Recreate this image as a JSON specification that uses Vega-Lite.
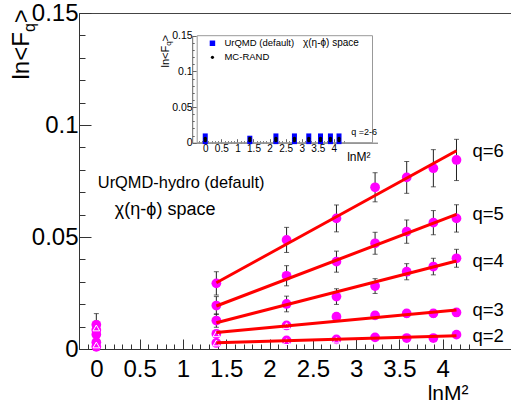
{
  "$schema": "https://vega.github.io/schema/vega-lite/v6.json",
  "width": 433,
  "height": 336,
  "autosize": "none",
  "padding": {"left": 79, "top": 13, "right": 0, "bottom": 59},
  "config": {
    "view": {"stroke": "#444", "strokeWidth": 1},
    "font": "Liberation Sans",
    "text": {"font": "Liberation Sans"},
    "axis": {"labelFont": "Liberation Sans", "titleFont": "Liberation Sans", "titleFontWeight": "normal", "labelColor": "#000", "titleColor": "#000", "domainColor": "#333", "tickColor": "#333", "grid": false, "labelFlush": false, "labelOverlap": false}
  },
  "datasets": {
    "pts": [
      {"q": "q=2", "x": 0, "y": 0.001, "err": 0.0005},
      {"q": "q=3", "x": 0, "y": 0.003, "err": 0.001},
      {"q": "q=4", "x": 0, "y": 0.0065, "err": 0.003},
      {"q": "q=5", "x": 0, "y": 0.0085, "err": 0.004},
      {"q": "q=6", "x": 0, "y": 0.0108, "err": 0.005},
      {"q": "q=2", "x": 1.386, "y": 0.0027, "err": 0.0006},
      {"q": "q=2", "x": 2.197, "y": 0.0038, "err": 0.0007},
      {"q": "q=2", "x": 2.773, "y": 0.0043, "err": 0.0007},
      {"q": "q=2", "x": 3.219, "y": 0.0052, "err": 0.0008},
      {"q": "q=2", "x": 3.584, "y": 0.0049, "err": 0.0008},
      {"q": "q=2", "x": 3.892, "y": 0.0049, "err": 0.0008},
      {"q": "q=2", "x": 4.159, "y": 0.0064, "err": 0.0009},
      {"q": "q=3", "x": 1.386, "y": 0.0068, "err": 0.0015},
      {"q": "q=3", "x": 2.197, "y": 0.0105, "err": 0.0015},
      {"q": "q=3", "x": 2.773, "y": 0.0144, "err": 0.0015},
      {"q": "q=3", "x": 3.219, "y": 0.015, "err": 0.0015},
      {"q": "q=3", "x": 3.584, "y": 0.0159, "err": 0.0016},
      {"q": "q=3", "x": 3.892, "y": 0.0159, "err": 0.0016},
      {"q": "q=3", "x": 4.159, "y": 0.0163, "err": 0.0017},
      {"q": "q=4", "x": 1.386, "y": 0.0127, "err": 0.003},
      {"q": "q=4", "x": 2.197, "y": 0.0201, "err": 0.0035},
      {"q": "q=4", "x": 2.773, "y": 0.0234, "err": 0.0035},
      {"q": "q=4", "x": 3.219, "y": 0.0281, "err": 0.0033},
      {"q": "q=4", "x": 3.584, "y": 0.0345, "err": 0.0036},
      {"q": "q=4", "x": 3.892, "y": 0.0368, "err": 0.0037},
      {"q": "q=4", "x": 4.159, "y": 0.0405, "err": 0.004},
      {"q": "q=5", "x": 1.386, "y": 0.0194, "err": 0.004},
      {"q": "q=5", "x": 2.197, "y": 0.0327, "err": 0.0045},
      {"q": "q=5", "x": 2.773, "y": 0.039, "err": 0.0047},
      {"q": "q=5", "x": 3.219, "y": 0.0472, "err": 0.0049},
      {"q": "q=5", "x": 3.584, "y": 0.0524, "err": 0.0052},
      {"q": "q=5", "x": 3.892, "y": 0.0564, "err": 0.0054},
      {"q": "q=5", "x": 4.159, "y": 0.0583, "err": 0.0061},
      {"q": "q=6", "x": 1.386, "y": 0.0293, "err": 0.0052},
      {"q": "q=6", "x": 2.197, "y": 0.0487, "err": 0.0056},
      {"q": "q=6", "x": 2.773, "y": 0.0583, "err": 0.006},
      {"q": "q=6", "x": 3.219, "y": 0.0722, "err": 0.0065},
      {"q": "q=6", "x": 3.584, "y": 0.0766, "err": 0.0071},
      {"q": "q=6", "x": 3.892, "y": 0.0807, "err": 0.0083},
      {"q": "q=6", "x": 4.159, "y": 0.0844, "err": 0.0092}
    ],
    "mc": [
      {"x": 0, "y": 0.0018},
      {"x": 0, "y": 0.0094},
      {"x": 1.386, "y": 0.0027},
      {"x": 1.386, "y": 0.0068},
      {"x": 2.197, "y": 0.0033},
      {"x": 2.197, "y": 0.0104},
      {"x": 2.773, "y": 0.004}
    ],
    "fit": [
      {"q": "q=2", "x": 1.386, "y": 0.0028},
      {"q": "q=2", "x": 4.159, "y": 0.0059},
      {"q": "q=3", "x": 1.386, "y": 0.0074},
      {"q": "q=3", "x": 4.159, "y": 0.0174},
      {"q": "q=4", "x": 1.386, "y": 0.0117},
      {"q": "q=4", "x": 4.159, "y": 0.0393},
      {"q": "q=5", "x": 1.386, "y": 0.0192},
      {"q": "q=5", "x": 4.159, "y": 0.0601},
      {"q": "q=6", "x": 1.386, "y": 0.0296},
      {"q": "q=6", "x": 4.159, "y": 0.0885}
    ],
    "inset": [
      {"x": 0, "top": 0.013},
      {"x": 1.386, "top": 0.0098},
      {"x": 2.197, "top": 0.013},
      {"x": 2.773, "top": 0.013},
      {"x": 3.219, "top": 0.013},
      {"x": 3.584, "top": 0.013},
      {"x": 3.892, "top": 0.013},
      {"x": 4.159, "top": 0.013}
    ],
    "insetmc": [
      {"x": 0, "y": 0.003}, {"x": 0, "y": 0.006},
      {"x": 1.386, "y": 0.003}, {"x": 1.386, "y": 0.006},
      {"x": 2.197, "y": 0.003}, {"x": 2.197, "y": 0.006},
      {"x": 2.773, "y": 0.003}, {"x": 2.773, "y": 0.006},
      {"x": 3.219, "y": 0.003}, {"x": 3.219, "y": 0.006},
      {"x": 3.584, "y": 0.003}, {"x": 3.584, "y": 0.006},
      {"x": 3.892, "y": 0.003}, {"x": 3.892, "y": 0.006},
      {"x": 4.159, "y": 0.003}, {"x": 4.159, "y": 0.006}
    ]
  },
  "layer": [
    {
      "layer": [
        {
          "data": {"name": "pts"},
          "mark": {"type": "errorbar", "color": "#222", "thickness": 1, "ticks": {"size": 5, "thickness": 1}},
          "encoding": {
            "x": {"field": "x", "type": "quantitative", "scale": {"domain": [-0.2, 4.8], "nice": false, "zero": false}, "axis": null},
            "y": {"field": "y", "type": "quantitative", "scale": {"domain": [0, 0.15], "nice": false, "zero": false}, "axis": null},
            "yError": {"field": "err"}
          }
        },
        {
          "data": {"name": "pts"},
          "mark": {"type": "circle", "color": "#ff00ff", "opacity": 1, "size": 95},
          "encoding": {
            "x": {"field": "x", "type": "quantitative", "scale": {"domain": [-0.2, 4.8], "nice": false, "zero": false},
              "axis": {"orient": "bottom",
                "values": [-0.1,0,0.1,0.2,0.3,0.4,0.5,0.6,0.7,0.8,0.9,1,1.1,1.2,1.3,1.4,1.5,1.6,1.7,1.8,1.9,2,2.1,2.2,2.3,2.4,2.5,2.6,2.7,2.8,2.9,3,3.1,3.2,3.3,3.4,3.5,3.6,3.7,3.8,3.9,4,4.1,4.2,4.3],
                "format": "~g",
                "labelExpr": "(abs(datum.value*2 - round(datum.value*2)) < 0.000001 && datum.value > -0.01 && datum.value < 4.01) ? datum.label : ''",
                "tickSize": {"condition": {"test": "abs(datum.value*2 - round(datum.value*2)) < 0.000001", "value": -10}, "value": -5},
                "labelFontSize": 24, "labelPadding": 18,
                "title": "lnM²", "titleFontSize": 21, "titleX": 389, "titleY": 50, "titleAlign": "right", "titleBaseline": "alphabetic", "titleAngle": 0}},
            "y": {"field": "y", "type": "quantitative", "scale": {"domain": [0, 0.15], "nice": false, "zero": false},
              "axis": {"orient": "left",
                "values": [0,0.01,0.02,0.03,0.04,0.05,0.06,0.07,0.08,0.09,0.1,0.11,0.12,0.13,0.14,0.15],
                "format": "~g",
                "labelExpr": "abs(datum.value*20 - round(datum.value*20)) < 0.000001 ? datum.label : ''",
                "tickSize": {"condition": {"test": "abs(datum.value*20 - round(datum.value*20)) < 0.000001", "value": -12}, "value": -6},
                "labelFontSize": 24, "labelPadding": 13, "labelBaseline": "middle",
                "title": "ln<F", "titleFontSize": 24, "titleAngle": -90, "titleX": -51, "titleY": 66, "titleAlign": "left", "titleBaseline": "alphabetic"}}
          }
        },
        {
          "data": {"name": "mc"},
          "mark": {"type": "point", "shape": "triangle-up", "filled": false, "stroke": "#ffffff", "strokeWidth": 1, "size": 45, "opacity": 1},
          "encoding": {
            "x": {"field": "x", "type": "quantitative", "scale": {"domain": [-0.2, 4.8], "nice": false, "zero": false}, "axis": null},
            "y": {"field": "y", "type": "quantitative", "scale": {"domain": [0, 0.15], "nice": false, "zero": false},
              "axis": {"orient": "left", "domain": false, "ticks": false, "labels": false, "title": "q", "titleFontSize": 16, "titleAngle": -90, "titleX": -45, "titleY": 18.6, "titleAlign": "left", "titleBaseline": "alphabetic"}}
          }
        },
        {
          "data": {"name": "fit"},
          "mark": {"type": "line", "color": "#ff0000", "strokeWidth": 3},
          "encoding": {
            "x": {"field": "x", "type": "quantitative", "scale": {"domain": [-0.2, 4.8], "nice": false, "zero": false}, "axis": null},
            "y": {"field": "y", "type": "quantitative", "scale": {"domain": [0, 0.15], "nice": false, "zero": false},
              "axis": {"orient": "left", "domain": false, "ticks": false, "labels": false, "title": ">", "titleFontSize": 24, "titleAngle": -90, "titleX": -51, "titleY": 9.7, "titleAlign": "left", "titleBaseline": "alphabetic"}},
            "detail": {"field": "q"}
          }
        },
        {
          "data": {"name": "fit"},
          "transform": [{"filter": "datum.x > 4"}],
          "mark": {"type": "text", "align": "left", "baseline": "middle", "dx": 16, "fontSize": 18.5, "color": "#000"},
          "encoding": {
            "x": {"field": "x", "type": "quantitative", "scale": {"domain": [-0.2, 4.8], "nice": false, "zero": false}, "axis": null},
            "y": {"field": "y", "type": "quantitative", "scale": {"domain": [0, 0.15], "nice": false, "zero": false}, "axis": null},
            "text": {"field": "q"}
          }
        },
        {
          "data": {"values": [{}]},
          "mark": {"type": "text", "text": "UrQMD-hydro (default)", "align": "left", "baseline": "middle", "fontSize": 16.4, "color": "#000"},
          "encoding": {
            "x": {"datum": 0.017, "type": "quantitative", "scale": {"domain": [-0.2, 4.8], "nice": false, "zero": false}, "axis": null},
            "y": {"datum": 0.074, "type": "quantitative", "scale": {"domain": [0, 0.15], "nice": false, "zero": false}, "axis": null}
          }
        },
        {
          "data": {"values": [{}]},
          "mark": {"type": "text", "text": "χ(η-ϕ) space", "align": "left", "baseline": "middle", "fontSize": 18, "color": "#000"},
          "encoding": {
            "x": {"datum": 0.214, "type": "quantitative", "scale": {"domain": [-0.2, 4.8], "nice": false, "zero": false}, "axis": null},
            "y": {"datum": 0.062, "type": "quantitative", "scale": {"domain": [0, 0.15], "nice": false, "zero": false}, "axis": null}
          }
        }
      ],
      "resolve": {"axis": {"x": "independent", "y": "independent"}}
    },
    {
      "layer": [
        {
          "data": {"values": [{}]},
          "mark": {"type": "rect", "fillOpacity": 0, "stroke": "#999", "strokeWidth": 1},
          "encoding": {
            "x": {"datum": -0.25, "type": "quantitative", "scale": {"domain": [-0.25, 5.2], "range": [113.2, 298.5], "nice": false, "zero": false}, "axis": null},
            "x2": {"datum": 5.2},
            "y": {"datum": 0, "type": "quantitative", "scale": {"domain": [0, 0.15], "range": [129.7, 22.7], "nice": false, "zero": false},
              "axis": {"orient": "left", "offset": -113.2, "domain": false, "ticks": false, "labels": false, "title": ">", "titleFontSize": 11, "titleAngle": -90, "titleX": -24.2, "titleY": 27.9, "titleAlign": "left", "titleBaseline": "alphabetic"}},
            "y2": {"datum": 0.15}
          }
        },
        {
          "data": {"name": "inset"},
          "mark": {"type": "bar", "color": "#0000ff", "size": 5},
          "encoding": {
            "x": {"field": "x", "type": "quantitative", "scale": {"domain": [-0.25, 5.2], "range": [113.2, 298.5], "nice": false, "zero": false},
              "axis": {"orient": "bottom", "offset": -206.3,
                "values": [-0.2,-0.1,0,0.1,0.2,0.3,0.4,0.5,0.6,0.7,0.8,0.9,1,1.1,1.2,1.3,1.4,1.5,1.6,1.7,1.8,1.9,2,2.1,2.2,2.3,2.4,2.5,2.6,2.7,2.8,2.9,3,3.1,3.2,3.3,3.4,3.5,3.6,3.7,3.8,3.9,4,4.1,4.2,4.3],
                "format": "~g",
                "labelExpr": "(abs(datum.value*2 - round(datum.value*2)) < 0.000001 && datum.value > -0.01 && datum.value < 4.01) ? datum.label : ''",
                "tickSize": {"condition": {"test": "abs(datum.value*2 - round(datum.value*2)) < 0.000001", "value": -4}, "value": -2},
                "domainColor": "#666", "tickColor": "#666",
                "labelFontSize": 10, "labelPadding": 4.5,
                "title": "lnM²", "titleFontSize": 12, "titleX": 291, "titleY": 17.3, "titleAlign": "right", "titleBaseline": "alphabetic", "titleAngle": 0}},
            "y": {"field": "top", "type": "quantitative", "scale": {"domain": [0, 0.15], "range": [129.7, 22.7], "nice": false, "zero": false},
              "axis": {"orient": "left", "offset": -113.2,
                "values": [0,0.01,0.02,0.03,0.04,0.05,0.06,0.07,0.08,0.09,0.1,0.11,0.12,0.13,0.14,0.15],
                "format": "~g",
                "labelExpr": "abs(datum.value*20 - round(datum.value*20)) < 0.000001 ? datum.label : ''",
                "tickSize": {"condition": {"test": "abs(datum.value*20 - round(datum.value*20)) < 0.000001", "value": -4}, "value": -2},
                "domainColor": "#666", "tickColor": "#666",
                "labelFontSize": 10.5, "labelPadding": 4, "labelBaseline": "middle",
                "title": "ln<F", "titleFontSize": 11, "titleAngle": -90, "titleX": -24.2, "titleY": 54, "titleAlign": "left", "titleBaseline": "alphabetic"}},
            "y2": {"datum": -0.002}
          }
        },
        {
          "data": {"name": "insetmc"},
          "mark": {"type": "circle", "color": "#000", "opacity": 1, "size": 12},
          "encoding": {
            "x": {"field": "x", "type": "quantitative", "scale": {"domain": [-0.25, 5.2], "range": [113.2, 298.5], "nice": false, "zero": false}, "axis": null},
            "y": {"field": "y", "type": "quantitative", "scale": {"domain": [0, 0.15], "range": [129.7, 22.7], "nice": false, "zero": false},
              "axis": {"orient": "left", "offset": -113.2, "domain": false, "ticks": false, "labels": false, "title": "q", "titleFontSize": 8, "titleAngle": -90, "titleX": -21.7, "titleY": 32.3, "titleAlign": "left", "titleBaseline": "alphabetic"}}
          }
        },
        {
          "data": {"values": [{}]},
          "mark": {"type": "point", "shape": "square", "filled": true, "color": "#0000ff", "opacity": 1, "size": 30},
          "encoding": {
            "x": {"datum": 0.224, "type": "quantitative", "scale": {"domain": [-0.25, 5.2], "range": [113.2, 298.5], "nice": false, "zero": false}, "axis": null},
            "y": {"datum": 0.1394, "type": "quantitative", "scale": {"domain": [0, 0.15], "range": [129.7, 22.7], "nice": false, "zero": false}, "axis": null}
          }
        },
        {
          "data": {"values": [{}]},
          "mark": {"type": "circle", "color": "#000", "opacity": 1, "size": 10},
          "encoding": {
            "x": {"datum": 0.224, "type": "quantitative", "scale": {"domain": [-0.25, 5.2], "range": [113.2, 298.5], "nice": false, "zero": false}, "axis": null},
            "y": {"datum": 0.1197, "type": "quantitative", "scale": {"domain": [0, 0.15], "range": [129.7, 22.7], "nice": false, "zero": false}, "axis": null}
          }
        },
        {
          "data": {"values": [{}]},
          "mark": {"type": "text", "text": "UrQMD (default)", "align": "left", "baseline": "middle", "fontSize": 9.5, "color": "#000"},
          "encoding": {
            "x": {"datum": 0.597, "type": "quantitative", "scale": {"domain": [-0.25, 5.2], "range": [113.2, 298.5], "nice": false, "zero": false}, "axis": null},
            "y": {"datum": 0.1394, "type": "quantitative", "scale": {"domain": [0, 0.15], "range": [129.7, 22.7], "nice": false, "zero": false}, "axis": null}
          }
        },
        {
          "data": {"values": [{}]},
          "mark": {"type": "text", "text": "MC-RAND", "align": "left", "baseline": "middle", "fontSize": 9.5, "color": "#000"},
          "encoding": {
            "x": {"datum": 0.597, "type": "quantitative", "scale": {"domain": [-0.25, 5.2], "range": [113.2, 298.5], "nice": false, "zero": false}, "axis": null},
            "y": {"datum": 0.1197, "type": "quantitative", "scale": {"domain": [0, 0.15], "range": [129.7, 22.7], "nice": false, "zero": false}, "axis": null}
          }
        },
        {
          "data": {"values": [{}]},
          "mark": {"type": "text", "text": "χ(η-ϕ) space", "align": "left", "baseline": "middle", "fontSize": 10, "color": "#000"},
          "encoding": {
            "x": {"datum": 3.04, "type": "quantitative", "scale": {"domain": [-0.25, 5.2], "range": [113.2, 298.5], "nice": false, "zero": false}, "axis": null},
            "y": {"datum": 0.1394, "type": "quantitative", "scale": {"domain": [0, 0.15], "range": [129.7, 22.7], "nice": false, "zero": false}, "axis": null}
          }
        },
        {
          "data": {"values": [{}]},
          "mark": {"type": "text", "text": "q =2-6", "align": "left", "baseline": "middle", "fontSize": 9, "color": "#000"},
          "encoding": {
            "x": {"datum": 4.54, "type": "quantitative", "scale": {"domain": [-0.25, 5.2], "range": [113.2, 298.5], "nice": false, "zero": false}, "axis": null},
            "y": {"datum": 0.0154, "type": "quantitative", "scale": {"domain": [0, 0.15], "range": [129.7, 22.7], "nice": false, "zero": false}, "axis": null}
          }
        }
      ],
      "resolve": {"axis": {"x": "independent", "y": "independent"}}
    }
  ],
  "resolve": {"scale": {"x": "independent", "y": "independent"}, "axis": {"x": "independent", "y": "independent"}}
}
